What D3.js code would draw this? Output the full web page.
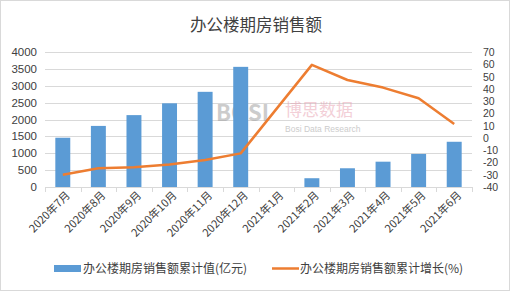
<!DOCTYPE html>
<html>
<head>
<meta charset="utf-8">
<script src="https://cdn.jsdelivr.net/npm/d3@7/dist/d3.min.js"></script>
<style>
  body { margin: 0; background: #fff; }
  text { font-family: "Noto Sans CJK SC", "Noto Sans", sans-serif; }
  text.num { font-family: "Liberation Sans", Arial, sans-serif; }
</style>
</head>
<body>
<div id="chart"></div>
<script>
// data
var months = ["2020年7月", "2020年8月", "2020年9月", "2020年10月", "2020年11月", "2020年12月",
              "2021年1月", "2021年2月", "2021年3月", "2021年4月", "2021年5月", "2021年6月"];
var salesValue = [1460, 1810, 2130, 2480, 2820, 3560, null, 260, 555, 750, 980, 1340];
var salesGrowth = [-30, -24.8, -24, -21.6, -18, -12.6, null, 59.5, 47.2, 41, 32.3, 11.3];
var leftTicks = [0, 500, 1000, 1500, 2000, 2500, 3000, 3500, 4000];
var rightTicks = [-40, -30, -20, -10, 0, 10, 20, 30, 40, 50, 60, 70];

var W = 510, H = 291;

var svg = d3.select("#chart").append("svg")
    .attr("width", W).attr("height", H);

svg.append("rect")
    .attr("x", 0.5).attr("y", 0.5)
    .attr("width", W - 1).attr("height", H - 1)
    .attr("fill", "#fff").attr("stroke", "#d9d9d9");

var x = d3.scaleBand().domain(months).range([45, 472]).paddingInner(0.58).paddingOuter(0.29);
var xBand = d3.scaleBand().domain(months).range([45, 472]);
var y = d3.scaleLinear().domain([0, 4000]).range([187, 52]);
var y2 = d3.scaleLinear().domain([-40, 70]).range([187, 52]);

// title
svg.append("text")
    .attr("x", 256).attr("y", 31)
    .attr("text-anchor", "middle")
    .attr("font-size", 16.5)
    .attr("fill", "#404040")
    .text("办公楼期房销售额");

// grid
svg.append("g").selectAll("line")
    .data(leftTicks.slice(1))
    .enter().append("line")
    .attr("x1", 45).attr("x2", 472)
    .attr("y1", function(d) { return Math.round(y(d)) + 0.5; })
    .attr("y2", function(d) { return Math.round(y(d)) + 0.5; })
    .attr("stroke", "#d9d9d9");

// watermark
var wm = svg.append("g").attr("opacity", 0.5);
wm.append("text").attr("x", 216).attr("y", 121).attr("font-size", 22)
    .attr("font-weight", "bold").attr("fill", "#9a9a9a").attr("font-family", "DejaVu Sans")
    .text("BOSI");
wm.append("text").attr("x", 285).attr("y", 116).attr("font-size", 17)
    .attr("fill", "#e8a0b0").text("博思数据");
wm.append("text").attr("class", "num").attr("x", 285).attr("y", 132).attr("font-size", 8.5)
    .attr("fill", "#999").text("Bosi Data Research");

// bars
svg.append("g").selectAll("rect")
    .data(months.map(function(m, i) { return {m: m, v: salesValue[i]}; }).filter(function(d) { return d.v != null; }))
    .enter().append("rect")
    .attr("x", function(d) { return x(d.m); })
    .attr("y", function(d) { return y(d.v); })
    .attr("width", x.bandwidth())
    .attr("height", function(d) { return y(0) - y(d.v); })
    .attr("fill", "#5b9bd5");

// x axis
var gx = svg.append("g").attr("transform", "translate(0,187)");
gx.append("line").attr("x1", 45).attr("x2", 472).attr("y1", 0.5).attr("y2", 0.5).attr("stroke", "#d9d9d9");
gx.selectAll("line.tick")
    .data(months.concat(["end"]))
    .enter().append("line")
    .attr("class", "tick")
    .attr("x1", function(d, i) { return Math.round(45 + i * xBand.step()) + 0.5; })
    .attr("x2", function(d, i) { return Math.round(45 + i * xBand.step()) + 0.5; })
    .attr("y1", 0).attr("y2", 5)
    .attr("stroke", "#d9d9d9");
gx.selectAll("text")
    .data(months)
    .enter().append("text")
    .attr("transform", function(d) {
        return "translate(" + (xBand(d) + xBand.bandwidth() / 2 + 8) + ",9) rotate(-45)";
    })
    .attr("text-anchor", "end")
    .attr("font-size", 11)
    .attr("fill", "#404040")
    .text(function(d) { return d; });

// left axis labels
svg.append("g").selectAll("text")
    .data(leftTicks)
    .enter().append("text")
    .attr("class", "num")
    .attr("x", 37).attr("y", function(d) { return y(d) + 4; })
    .attr("text-anchor", "end")
    .attr("font-size", 11.5)
    .attr("fill", "#404040")
    .text(function(d) { return d; });

// right axis labels (packed tightly, as in the original)
svg.append("g").selectAll("text")
    .data(rightTicks)
    .enter().append("text")
    .attr("class", "num")
    .attr("x", 483).attr("y", function(d) { return y2(d) + 4; })
    .attr("text-anchor", "start")
    .attr("font-size", 10.5)
    .attr("fill", "#404040")
    .text(function(d) { return d; });

// line
var pts = months.map(function(m, i) { return {m: m, v: salesGrowth[i]}; }).filter(function(d) { return d.v != null; });
var line = d3.line()
    .x(function(d) { return xBand(d.m) + xBand.bandwidth() / 2; })
    .y(function(d) { return y2(d.v); });
svg.append("path")
    .datum(pts)
    .attr("d", line)
    .attr("fill", "none")
    .attr("stroke", "#ed7d31")
    .attr("stroke-width", 2.5)
    .attr("stroke-linejoin", "round");

// legend
var lg = svg.append("g");
lg.append("rect").attr("x", 54).attr("y", 265).attr("width", 27).attr("height", 7).attr("fill", "#5b9bd5");
lg.append("text").attr("x", 83).attr("y", 273).attr("font-size", 12).attr("fill", "#404040")
    .text("办公楼期房销售额累计值(亿元)");
lg.append("line").attr("x1", 272).attr("x2", 299).attr("y1", 268.5).attr("y2", 268.5)
    .attr("stroke", "#ed7d31").attr("stroke-width", 2.5);
lg.append("text").attr("x", 300).attr("y", 273).attr("font-size", 12).attr("fill", "#404040")
    .text("办公楼期房销售额累计增长(%)");
</script>
</body>
</html>
